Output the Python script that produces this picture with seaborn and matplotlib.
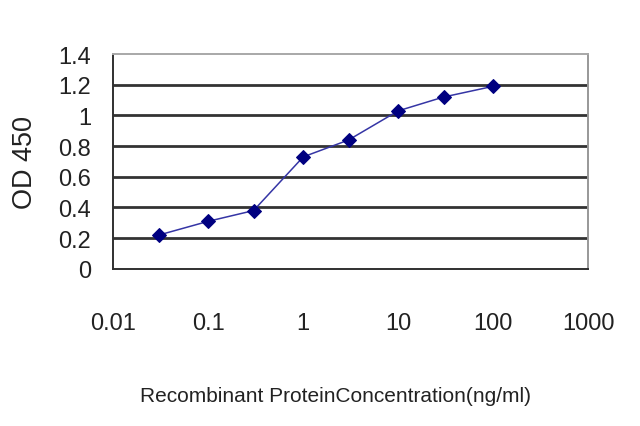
import numpy as np
import pandas as pd
import matplotlib
matplotlib.use("Agg")
import matplotlib.pyplot as plt
from matplotlib.ticker import FixedLocator, FuncFormatter, NullLocator
import seaborn as sns

# Data
concentracion = [0.03, 0.1, 0.3, 1, 3, 10, 30, 100]
od450 = [0.22, 0.31, 0.38, 0.73, 0.84, 1.03, 1.12, 1.19]
x_ticks = [0.01, 0.1, 1, 10, 100, 1000]
y_ticks = [0, 0.2, 0.4, 0.6, 0.8, 1, 1.2, 1.4]

df = pd.DataFrame({"conc": concentracion, "od": od450})

sns.set_theme(style="white")
plt.rcParams["font.family"] = ["Liberation Sans", "DejaVu Sans"]

fig = plt.figure(figsize=(6.4, 4.27), dpi=100)
ax = fig.add_axes([0.177, 0.368, 0.742, 0.503])

sns.lineplot(data=df, x="conc", y="od", ax=ax, color="#3535a5", linewidth=1.1,
             marker="D", markersize=7, markerfacecolor="#000080",
             markeredgecolor="#000080", zorder=3)

ax.set_xscale("log")
ax.set_xlim(0.01, 1000)
ax.set_ylim(0, 1.4)
ax.xaxis.set_major_locator(FixedLocator(x_ticks))
ax.xaxis.set_minor_locator(NullLocator())
ax.xaxis.set_major_formatter(FuncFormatter(lambda v, p: f"{v:g}"))
ax.yaxis.set_major_locator(FixedLocator(y_ticks))
ax.yaxis.set_major_formatter(FuncFormatter(lambda v, p: f"{v:g}"))

# Excel-style horizontal gridlines, none on the plot-area edges
ax.yaxis.grid(True, color="#333333", linewidth=2.0)
gl = ax.get_ygridlines()
gl[0].set_visible(False)
gl[-1].set_visible(False)

for s in ["left", "bottom"]:
    ax.spines[s].set_color("#303030")
    ax.spines[s].set_linewidth(1.4)
ax.spines["top"].set_color("#a8a8a8")
ax.spines["right"].set_color("#989898")
ax.spines["top"].set_linewidth(1.4)
ax.spines["right"].set_linewidth(1.4)

ax.tick_params(axis="x", direction="in", length=5, width=1.2, color="#303030",
               pad=31, labelsize=17, labelcolor="#222222")
ax.tick_params(axis="y", length=0, pad=16, labelsize=17, labelcolor="#222222")

ax.set_xlabel("Recombinant ProteinConcentration(ng/ml)", fontsize=15, color="#222222")
ax.xaxis.set_label_coords(0.467, -0.545)
ax.set_ylabel("OD 450", fontsize=19.5, color="#222222")
ax.yaxis.set_label_coords(-0.158, 0.5)

plt.savefig("out.png", dpi=100)
